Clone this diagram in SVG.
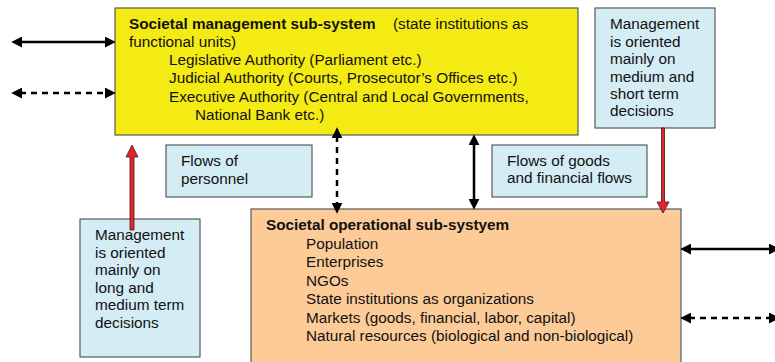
<svg xmlns="http://www.w3.org/2000/svg" width="775" height="362" viewBox="0 0 775 362">
<style>
text{font-family:"Liberation Sans",Arial,sans-serif;font-size:15.3px;fill:#111}
.b{font-weight:bold}
.box{stroke:#5a5a5a;stroke-width:1.2}
.yel{fill:#F5EB14}
.blu{fill:#D4ECF3}
.org{fill:#FDCB98}
.ln{stroke:#000;stroke-width:2.5;fill:none}
.dash{stroke-dasharray:6,5}
.red{fill:#E3262B;stroke:#4a1414;stroke-width:0.8}
</style>
<defs>
<marker id="ah" viewBox="0 0 10 10" refX="2" refY="5" markerWidth="11" markerHeight="11" markerUnits="userSpaceOnUse" orient="auto-start-reverse">
<path d="M0,0 L10,5 L0,10 z" fill="#000"/>
</marker>
</defs>
<g id="mgmt">
<rect class="box yel" x="115" y="8" width="463" height="127"/>
<text x="129" y="29"><tspan class="b">Societal management sub-system</tspan></text>
<text x="393" y="29">(state institutions as</text>
<text x="129" y="47">functional units)</text>
<text x="169" y="65">Legislative Authority (Parliament etc.)</text>
<text x="169" y="83">Judicial Authority (Courts, Prosecutor’s Offices etc.)</text>
<text x="169" y="102">Executive Authority (Central and Local Governments,</text>
<text x="195" y="120">National Bank etc.)</text>
</g>
<g id="note-short">
<rect class="box blu" x="595" y="8" width="120" height="120"/>
<text x="610" y="29">Management</text>
<text x="610" y="47">is oriented</text>
<text x="610" y="64">mainly on</text>
<text x="610" y="82">medium and</text>
<text x="610" y="99">short term</text>
<text x="610" y="116">decisions</text>
</g>
<g id="oper">
<rect class="box org" x="251" y="209" width="430" height="160"/>
<text class="b" x="266" y="230">Societal operational sub-systyem</text>
<text x="306" y="249">Population</text>
<text x="306" y="267">Enterprises</text>
<text x="306" y="286">NGOs</text>
<text x="306" y="304">State institutions as organizations</text>
<text x="306" y="323">Markets (goods, financial, labor, capital)</text>
<text x="306" y="341">Natural resources (biological and non-biological)</text>
</g>
<g id="note-long">
<rect class="box blu" x="80" y="219" width="120" height="138"/>
<text x="95" y="240">Management</text>
<text x="95" y="258">is oriented</text>
<text x="95" y="275">mainly on</text>
<text x="95" y="293">long and</text>
<text x="95" y="310">medium term</text>
<text x="95" y="328">decisions</text>
</g>
<g id="flow-personnel">
<rect class="box blu" x="166" y="145" width="146" height="52"/>
<text x="181" y="166">Flows of</text>
<text x="181" y="184">personnel</text>
</g>
<g id="flow-goods">
<rect class="box blu" x="492" y="145" width="155" height="52"/>
<text x="507" y="166">Flows of goods</text>
<text x="507" y="183">and financial flows</text>
</g>
<g id="connectors">
<line class="ln" x1="20" y1="42" x2="107" y2="42" marker-start="url(#ah)" marker-end="url(#ah)"/>
<line class="ln dash" x1="20" y1="93" x2="107" y2="93" marker-start="url(#ah)" marker-end="url(#ah)"/>
<line class="ln dash" x1="337" y1="136" x2="337" y2="205" marker-start="url(#ah)" marker-end="url(#ah)"/>
<line class="ln" x1="474" y1="143" x2="474" y2="201" marker-start="url(#ah)" marker-end="url(#ah)"/>
<line class="ln" x1="689" y1="249" x2="771" y2="249" marker-start="url(#ah)" marker-end="url(#ah)"/>
<line class="ln dash" x1="689" y1="318" x2="771" y2="318" marker-start="url(#ah)" marker-end="url(#ah)"/>
<polygon class="red" points="130,230 130,157 126,157 132,145 138,157 134,157 134,230"/>
<polygon class="red" points="661.5,128 661.5,202 657,202 663,213 669,202 664.5,202 664.5,128"/>
</g>
</svg>
